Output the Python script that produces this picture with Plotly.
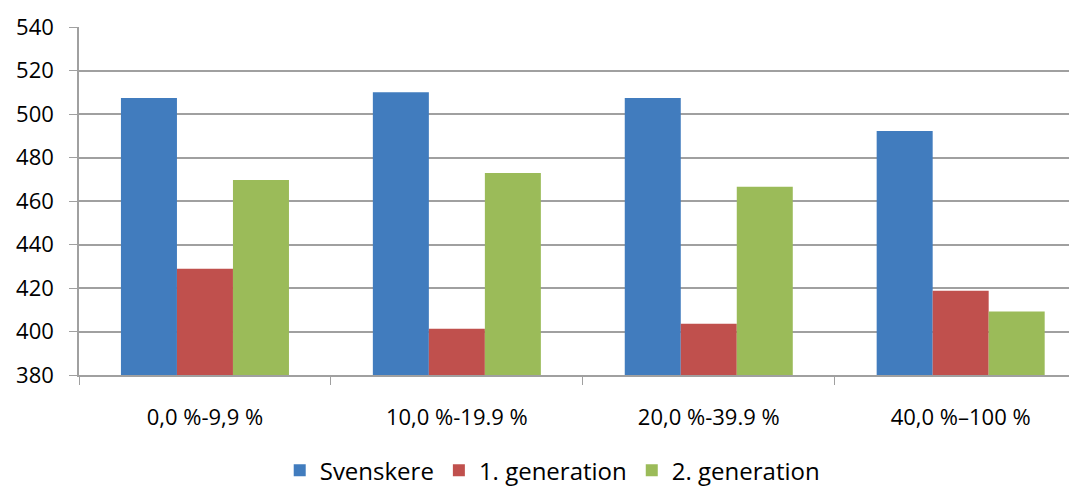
import plotly.graph_objects as go

categories = ["0,0 %-9,9 %", "10,0 %-19.9 %", "20,0 %-39.9 %", "40,0 %\u2013100 %"]
svenskere = [507.3, 510.0, 507.3, 492.2]
gen1 = [428.9, 401.3, 403.6, 418.7]
gen2 = [469.7, 472.9, 466.5, 409.2]
series_names = ["Svenskere", "1. generation", "2. generation"]
colors = ["#417CBE", "#C0504D", "#9BBB59"]

fig = go.Figure()
for name, vals, col in zip(series_names, [svenskere, gen1, gen2], colors):
    fig.add_trace(go.Bar(x=categories, y=[v - 380 for v in vals], base=380, name=name,
                         marker=dict(color=col, line=dict(width=0))))

font = "Open Sans"
fig.update_layout(
    margin=dict(l=71, r=0, t=19, b=113, autoexpand=False),
    plot_bgcolor="white", paper_bgcolor="white",
    barmode="group", bargap=0.333, bargroupgap=0,
    font=dict(family=font, size=22, color="#000000"),
    legend=dict(orientation="h", x=0.478, xanchor="center", yref="container", y=0.036, yanchor="middle",
                font=dict(size=24), itemwidth=30, traceorder="normal"),
    showlegend=True,
)
fig.update_yaxes(range=[380, 540], dtick=20, tick0=380, showgrid=True, gridcolor="#A0A0A0", gridwidth=1.5,
                 showline=True, linecolor="#A0A0A0", linewidth=1.5, ticks="outside", ticklen=8,
                 tickcolor="#A0A0A0", tickfont=dict(size=22), zeroline=False, ticklabelstandoff=11,
                 automargin=False)
fig.update_xaxes(type="category", range=[-0.5, 3.43], tickson="boundaries", ticks="outside", ticklen=8,
                 tickcolor="#A0A0A0", showline=True, linecolor="#A0A0A0", linewidth=1.5, showgrid=False,
                 tickfont=dict(size=22), ticklabelstandoff=22, automargin=False)

fig.write_html("out.html")
